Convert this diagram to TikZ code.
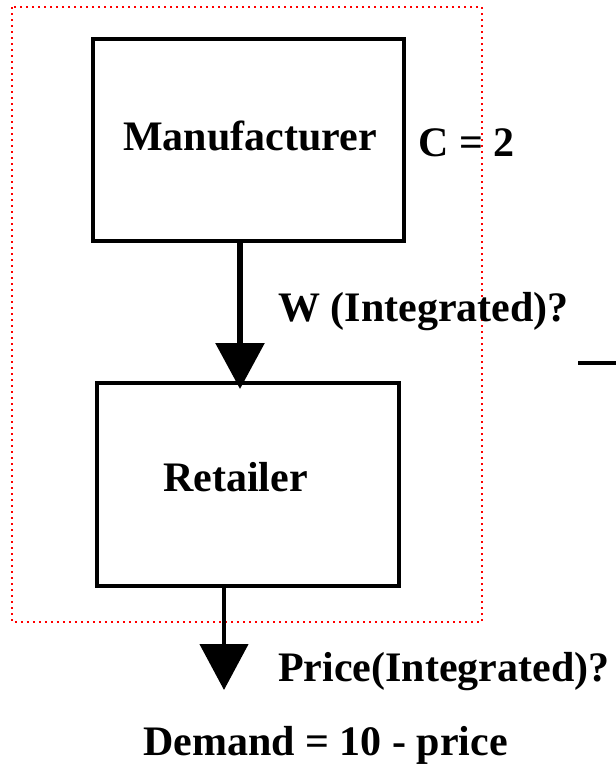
\documentclass[tikz,border=0pt]{standalone}
\usepackage{fontspec}
\setmainfont{Liberation Serif}
\usetikzlibrary{arrows.meta}

\tikzset{
  blockbox/.style={draw=black, line width=3.5pt, minimum width=#1, inner sep=0pt},
  lbl/.style={inner sep=0pt, anchor=base west, font=\fontsize{42}{48}\selectfont\bfseries},
  flow/.style={draw=black, -{Triangle[length=46pt, width=48pt]}},
  scopebox/.style={draw=red, line width=2pt, dash pattern=on 2pt off 4pt},
}

\begin{document}
\begin{tikzpicture}[x=1pt, y=-1pt]
  \useasboundingbox (0,0) rectangle (616,764);

  % dotted frame round the two firms
  \draw[scopebox] (12,7) rectangle (482,622);

  % the two firms
  \node[blockbox=311pt, minimum height=202pt] (mfg) at (248.5,140) {};
  \node[blockbox=302pt, minimum height=203pt] (ret) at (248,484.5) {};

  \node[lbl] (mfgtxt) at (123,150) {Manufacturer};
  \node[lbl] (rettxt) at (163,491) {Retailer};
  \node[lbl] (cost)   at (418,156) {C = 2};
  \node[lbl] (wlab)   at (278,321) {W (Integrated)?};
  \node[lbl] (plab)   at (278,681) {Price(Integrated)?};
  \node[lbl] (dem)    at (143,755) {Demand = 10 - price};

  % connector end points
  \coordinate (wtip) at (240,389);
  \coordinate (ptip) at (224,690);
  \coordinate (dashL) at (578,363);
  \coordinate (dashR) at (616,363);

  % wholesale price arrow and retail price arrow
  \draw[flow, line width=6pt] (mfg.south -| wtip) -- (wtip);
  \draw[flow, line width=4.5pt] ([yshift=3pt]ret.south -| ptip) -- (ptip);

  % short bar at the right edge
  \draw[line width=4pt] (dashL) -- (dashR);
\end{tikzpicture}
\end{document}
